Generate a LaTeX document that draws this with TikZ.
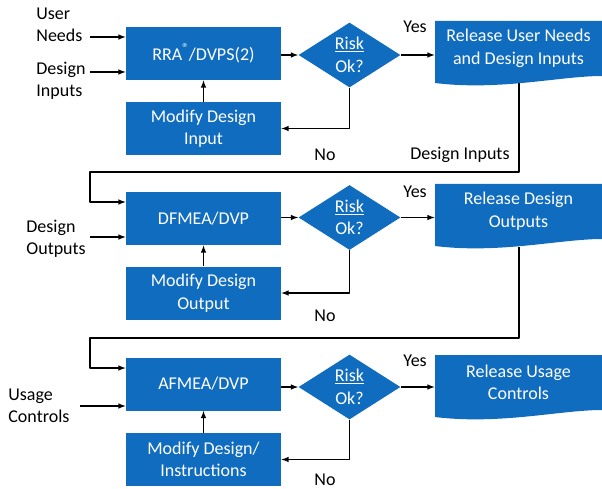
\documentclass[tikz,border=0pt]{standalone}
\usepackage{fontspec}
\setmainfont{Carlito}
\usetikzlibrary{shapes.geometric}
\definecolor{boxblue}{RGB}{16,108,190}

\begin{document}
\begin{tikzpicture}[x=1pt,y=-1pt,thick,line join=round,>=latex,
    stepbox/.style={fill=boxblue,text=white,minimum width=155pt,minimum height=53pt,align=center,inner sep=0pt},
    riskbox/.style={diamond,fill=boxblue,text=white,minimum width=102pt,minimum height=65pt,inner sep=0pt,align=center},
    reltext/.style={text=white,align=center,minimum width=167pt,minimum height=54pt,inner sep=0pt},
    lbl/.style={align=left,inner sep=0pt},
    flow/.style={->,line width=1.5pt}]
  \fontsize{18}{22.5}\selectfont
  \useasboundingbox (0,0) rectangle (602,489);
  % release document shapes
  \foreach \t in {21,184,355} {
      \fill[boxblue] (435,\t) -- (602,\t) -- (602,\t+55)
        .. controls (560,\t+55) and (500,\t+70) .. (435,\t+62) -- cycle;
    }

  % row 1
  \node[stepbox] (rra) at (203.5,53.5) {RRA\raisebox{0.45em}{\fontsize{13}{13}\selectfont ®}/DVPS(2)};
  \node[stepbox] (mod1) at (203.5,128.5) {Modify Design\\Input};
  \node[riskbox] (risk1) at (349.5,55) {\underline{Risk}\\Ok?};
  \node[reltext,anchor=north] (rel1) at (518.5,21) {Release User Needs\\and Design Inputs};
  \coordinate (rel1b) at (519,83);
  \node[lbl,anchor=west] (needs) at (36,25) {User\\Needs};
  \node[lbl,anchor=west] (inputs) at (36,81) {Design\\Inputs};
  \coordinate (needsin) at (90,37);
  \coordinate (inputsin) at (90,72);
  \node (yes1) at (415,27) {Yes};
  \node (no1) at (325,155) {No};
  \node (dilbl) at (460,155) {Design Inputs};

  \draw[flow] (needsin) -- (needsin -| rra.west);
  \draw[flow] (inputsin) -- (inputsin -| rra.west);
  \draw[flow] (risk1.west -| rra.east) -- (risk1.west);
  \draw[flow] (risk1.east) -- (risk1.east -| rel1.west);
  \draw[flow] (risk1.south) |- (mod1.east);
  \draw[flow] (mod1) -- (rra);

  % row 2
  \node[stepbox] (dfmea) at (203.5,218.5) {DFMEA/DVP};
  \node[stepbox] (mod2) at (203.5,293) {Modify Design\\Output};
  \node[riskbox] (risk2) at (349.5,217.5) {\underline{Risk}\\Ok?};
  \node[reltext,anchor=north] (rel2) at (518.5,184) {Release Design\\Outputs};
  \coordinate (rel2b) at (519,247);
  \node[lbl,anchor=west] (outputs) at (26,239) {Design\\Outputs};
  \coordinate (outputsin) at (90,237);
  \coordinate (in2) at (90,202);
  \node (yes2) at (415,192) {Yes};
  \node (no2) at (325,316) {No};

  \draw[flow] (rel1b) -- ++(0,89) -| (in2) -- (in2 -| dfmea.west);
  \draw[flow] (outputsin) -- (outputsin -| dfmea.west);
  \draw[flow] (risk2.west -| dfmea.east) -- (risk2.west);
  \draw[flow] (risk2.east) -- (risk2.east -| rel2.west);
  \draw[flow] (risk2.south) |- (mod2.east);
  \draw[flow] (mod2) -- (dfmea);

  % row 3
  \node[stepbox] (afmea) at (203.5,384) {AFMEA/DVP};
  \node[stepbox] (mod3) at (203.5,459.5) {Modify Design/\\Instructions};
  \node[riskbox] (risk3) at (349.5,387) {\underline{Risk}\\Ok?};
  \node[reltext,anchor=north] (rel3) at (518.5,355) {Release Usage\\Controls};
  \node[lbl,anchor=west] (usage) at (8,406) {Usage\\Controls};
  \coordinate (usagein) at (80,406);
  \coordinate (in3) at (90,368);
  \node (yes3) at (415,361) {Yes};
  \node (no3) at (325,480) {No};

  \draw[flow] (rel2b) -- ++(0,91) -| (in3) -- (in3 -| afmea.west);
  \draw[flow] (usagein) -- (usagein -| afmea.west);
  \draw[flow] (risk3.west -| afmea.east) -- (risk3.west);
  \draw[flow] (risk3.east) -- (risk3.east -| rel3.west);
  \draw[flow] (risk3.south) |- (mod3.east);
  \draw[flow] (mod3) -- (afmea);
\end{tikzpicture}
\end{document}
